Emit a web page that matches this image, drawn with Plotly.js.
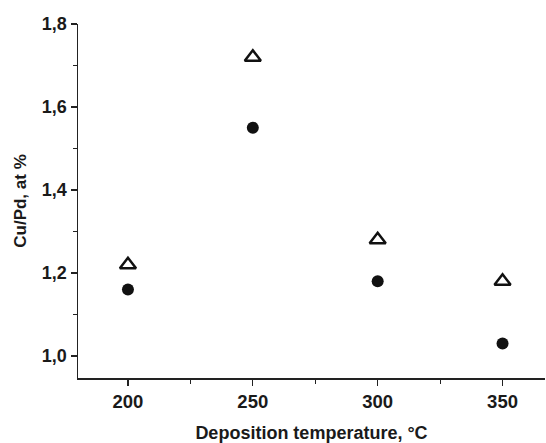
<!DOCTYPE html>
<html><head><meta charset="utf-8">
<script src="https://cdn.plot.ly/plotly-3.0.1.min.js"></script>
<style>body{margin:0;padding:0;background:#fff}#chart{width:546px;height:443px}</style>
</head><body><div id="chart"></div>
<script>
const temperatures = [200, 250, 300, 350];
const seriesTriangle = [1.22, 1.72, 1.28, 1.18];
const seriesCircle = [1.16, 1.55, 1.18, 1.03];
const xTicks = [200, 250, 300, 350];
const yTicks = [1.0, 1.2, 1.4, 1.6, 1.8];

const fam = 'Liberation Sans, Arial, sans-serif';
const ink = '#1a1a1a';
const data = [
  {x: temperatures, y: seriesTriangle, mode: 'markers', type: 'scatter',
   marker: {symbol: 'triangle-up-open', size: 14, color: '#111', line: {width: 2.5, color: '#111'}}},
  {x: temperatures, y: seriesCircle, mode: 'markers', type: 'scatter',
   marker: {symbol: 'circle', size: 12, color: '#111'}}
];
const layout = {
  width: 546, height: 443,
  margin: {l: 78, r: 1, t: 24, b: 65},
  separators: ',.',
  showlegend: false,
  paper_bgcolor: '#fff', plot_bgcolor: '#fff',
  font: {family: fam, size: 18, color: ink},
  xaxis: {
    range: [180, 367], tickvals: xTicks, ticks: 'outside', ticklen: 6, tickwidth: 1.2,
    tickcolor: '#222', showline: true, linecolor: '#222', linewidth: 1.5, showgrid: false, zeroline: false,
    tickfont: {family: fam, size: 18.5, color: ink, weight: 'bold'},
    minor: {dtick: 50, tick0: 225, ticks: 'outside', ticklen: 4, tickcolor: '#222', tickwidth: 1},
    title: {text: 'Deposition temperature, °C', standoff: 23,
            font: {family: fam, size: 18, color: ink, weight: 'bold'}}
  },
  yaxis: {
    range: [0.947, 1.8], tickvals: yTicks, tickformat: '.1f', ticks: 'outside', ticklen: 6, tickwidth: 1.2,
    tickcolor: '#222', showline: true, linecolor: '#222', linewidth: 1.5, showgrid: false, zeroline: false,
    tickfont: {family: fam, size: 18, color: ink, weight: 'bold'},
    minor: {dtick: 0.2, tick0: 1.1, ticks: 'outside', ticklen: 4, tickcolor: '#222', tickwidth: 1},
    title: {text: 'Cu/Pd, at %', standoff: 11,
            font: {family: fam, size: 17, color: ink, weight: 'bold'}}
  }
};
Plotly.newPlot('chart', data, layout, {displayModeBar: false, staticPlot: true});
</script></body></html>
